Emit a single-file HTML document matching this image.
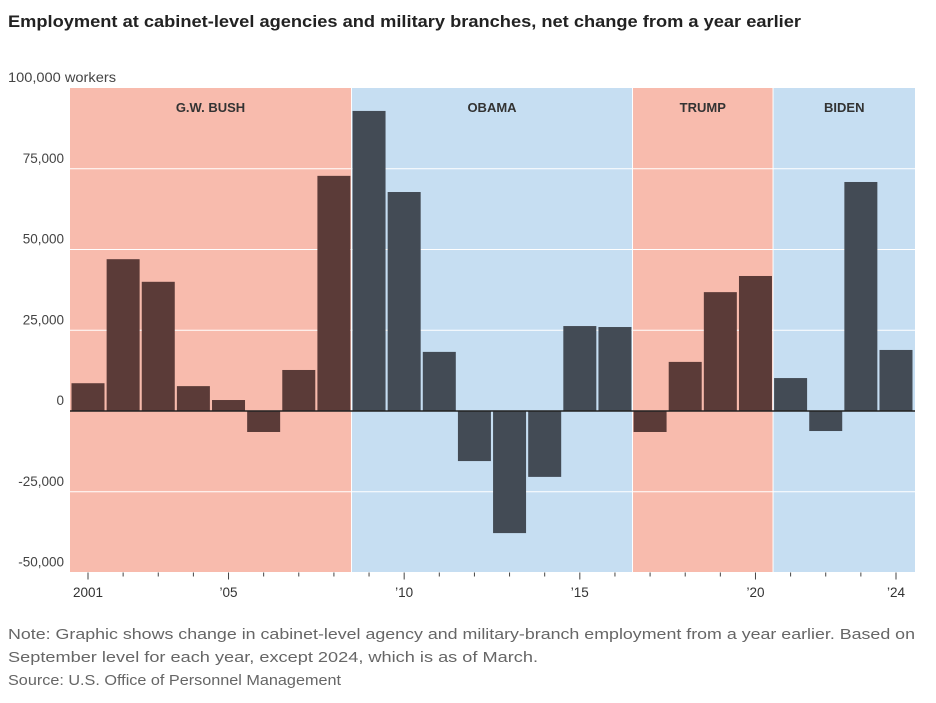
<!DOCTYPE html>
<html><head><meta charset="utf-8"><style>
body{margin:0;background:#fff;font-family:"Liberation Sans",sans-serif;}
svg text{font-family:"Liberation Sans",sans-serif;}
</style></head><body>
<svg id="chart" width="936" height="698">
<text x="8" y="27" font-size="16.5" font-weight="bold" fill="#222" textLength="793" lengthAdjust="spacingAndGlyphs">Employment at cabinet-level agencies and military branches, net change from a year earlier</text>
<g id="bg"></g><g id="grid"></g><g id="bars"></g><g id="axis"></g>
<text x="8" y="639" font-size="14.5" fill="#666" textLength="907" lengthAdjust="spacingAndGlyphs">Note: Graphic shows change in cabinet-level agency and military-branch employment from a year earlier. Based on</text>
<text x="8" y="662" font-size="14.5" fill="#666" textLength="530" lengthAdjust="spacingAndGlyphs">September level for each year, except 2024, which is as of March.</text>
<text x="8" y="685" font-size="14.5" fill="#666" textLength="333" lengthAdjust="spacingAndGlyphs">Source: U.S. Office of Personnel Management</text>
</svg>
<script>
const years=[2001,2002,2003,2004,2005,2006,2007,2008,2009,2010,2011,2012,2013,2014,2015,2016,2017,2018,2019,2020,2021,2022,2023,2024];
const values=[8600,47000,40000,7700,3400,-6500,12700,72800,92900,67800,18300,-15500,-37800,-20400,26300,26000,-6500,15200,36800,41800,10200,-6200,70900,18900];
const eras=["G.W. BUSH","OBAMA","TRUMP","BIDEN"];
const eraStart=[2001,2009,2017,2021];
const eraEnd=[2008,2016,2020,2024];
const yTicks=[100000,75000,50000,25000,0,-25000,-50000];
const yTickLabels=["100,000 workers","75,000","50,000","25,000","0","-25,000","-50,000"];
const xTicks=[2001,2005,2010,2015,2020,2024];
const xTickLabels=["2001","\u201905","\u201910","\u201915","\u201920","\u201924"];
const NS="http://www.w3.org/2000/svg";
const left=70,right=915,x0=88,step=35.13,bw=33;
const y=v=>411-v*80.75/25000;
const x=yr=>x0+(yr-2001)*step;
function mk(tag,attrs,parent){const e=document.createElementNS(NS,tag);for(const k in attrs)e.setAttribute(k,attrs[k]);document.getElementById(parent).appendChild(e);return e;}
eras.forEach((n,i)=>{
 const x1=i==0?left:x(eraStart[i])-step/2+0.5, x2=i==eras.length-1?right:x(eraEnd[i])+step/2-0.5;
 const r=mk('rect',{x:x1,y:y(100000),width:x2-x1,height:y(-50000)-y(100000),fill:i%2?'#c6def2':'#f8bbad'},'bg');
 
 
 const t=mk('text',{x:(x1+x2)/2,y:112,'text-anchor':'middle','font-size':13,'font-weight':'bold',fill:'#333'},'bg');
 t.textContent=n;
 
 
});
yTicks.forEach((v,i)=>{
 if(v!==0&&v!==100000){const l=mk('line',{x1:left,x2:right,y1:y(v),y2:y(v),stroke:'#fff','stroke-width':1},'grid');
 
 }
 const t=mk('text',{x:8,y:y(v)-6,'font-size':13.5,fill:'#444'},'axis');
 if(v!==100000){t.setAttribute('x',64);t.setAttribute('text-anchor','end');}
 else{t.setAttribute('textLength',108);t.setAttribute('lengthAdjust','spacingAndGlyphs');}
 t.textContent=yTickLabels[i];
 
 
});
years.forEach((yr,i)=>{
 const v=values[i];const pink=yr<=2008||(yr>=2017&&yr<=2020);
 const r=mk('rect',{x:x(yr)-bw/2,y:Math.min(y(v),y(0)),width:bw,height:Math.abs(y(v)-y(0)),fill:pink?'#5b3b38':'#434b55'},'bars');
 
 
});
const zl=mk('line',{x1:left,x2:right,y1:y(0),y2:y(0),stroke:'#222','stroke-width':1.5},'axis');


years.forEach(yr=>{
 const tk=mk('line',{x1:x(yr),x2:x(yr),y1:y(-50000),y2:y(-50000)+(xTicks.includes(yr)?7:4),stroke:'#444','stroke-width':1},'axis');
 
 
});
xTicks.forEach((yr,i)=>{
 const t=mk('text',{x:x(yr),y:597,'text-anchor':'middle','font-size':13.5,fill:'#333'},'axis');
 t.textContent=xTickLabels[i];
 
 
});
</script>
</body></html>
